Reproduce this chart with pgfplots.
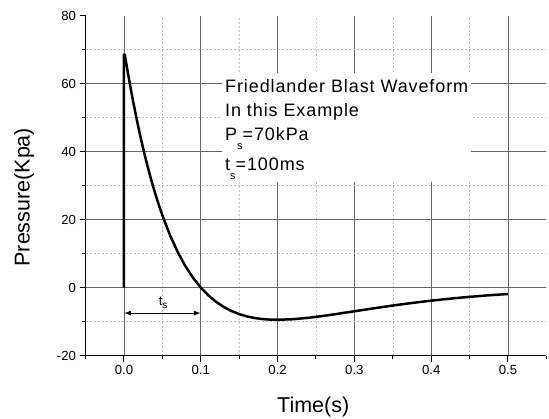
\documentclass[border=0pt]{standalone}
\usepackage{fontspec}
\setmainfont{Liberation Sans}
\newfontfamily\boxfont[LetterSpace=5]{Liberation Sans}
\usepackage{pgfplots}
\pgfplotsset{compat=1.18}
\usetikzlibrary{arrows.meta}
\begin{document}
\begin{tikzpicture}
\begin{axis}[
  scale only axis, width=461pt, height=340pt,
  xmin=-0.05, xmax=0.55, ymin=-20, ymax=80,
  axis x line*=bottom, axis y line*=left,
  axis line style={line width=1.3pt, -},
  xtick={0,0.1,0.2,0.3,0.4,0.5},
  minor xtick={0.05,0.15,0.25,0.35,0.45},
  extra x ticks={-0.05,0.55},
  extra x tick labels={,},
  extra x tick style={grid=none, major tick length=3.5pt},
  ytick={-20,0,20,40,60},
  minor ytick={-10,10,30,50,70},
  extra y ticks={80},
  extra y tick style={grid=none},
  grid=both,
  major grid style={black!60, line width=0.8pt},
  minor grid style={black!25, line width=0.5pt, dash pattern=on 2pt off 2pt},
  tick align=outside, major tick length=6pt, minor tick length=3.5pt,
  tick style={black, line width=1pt},
  x tick label style={/pgf/number format/.cd, fixed, fixed zerofill, precision=1},
  /pgf/number format/assume math mode=true,
  tick label style={font=\fontsize{13.2}{15}\selectfont},
  label style={font=\fontsize{21.5}{24}\selectfont},
  xlabel={Time(s)}, ylabel={Pressure(Kpa)},
  xlabel style={at={(axis description cs:0.494,-0.152)}, anchor=center},
  ylabel style={at={(axis description cs:-0.1336,0.466)}, anchor=center},
]
\fill[white] (axis cs:0.1276,31.1) rectangle (axis cs:0.452,63.1);
\addplot[black, line width=2.5pt, line join=round] coordinates {
(0,0) (0,68.6) (0.001,68.61) (0.005,63.26) (0.01,57.00) (0.015,51.21) (0.02,45.85)
(0.025,40.89) (0.03,36.30) (0.035,32.06) (0.04,28.15) (0.045,24.55) (0.05,21.23)
(0.06,15.37) (0.07,10.43) (0.08,6.29) (0.09,2.85) (0.10,0) (0.11,-2.33)
(0.12,-4.22) (0.13,-5.72) (0.14,-6.90) (0.15,-7.81) (0.16,-8.48) (0.17,-8.95)
(0.18,-9.26) (0.19,-9.42) (0.20,-9.47) (0.22,-9.31) (0.24,-8.89) (0.26,-8.32)
(0.28,-7.66) (0.30,-6.97) (0.325,-6.11) (0.35,-5.28) (0.375,-4.53) (0.40,-3.85)
(0.425,-3.25) (0.45,-2.72) (0.475,-2.27) (0.50,-1.89)
};
\draw[{Latex[length=7pt,width=5pt]}-{Latex[length=7pt,width=5pt]}, line width=1pt]
  (axis cs:0,-7.5) -- (axis cs:0.1,-7.5);
\node[anchor=base, inner sep=0pt, font=\fontsize{13}{13}\selectfont] at (axis cs:0.051,-5.2) {t\raisebox{-3.5pt}{\fontsize{10}{10}\selectfont s}};
\node[anchor=base west, inner sep=0pt, font=\boxfont\fontsize{18}{20}\selectfont] at (axis cs:0.1315,57.5) {Friedlander Blast Waveform};
\node[anchor=base west, inner sep=0pt, font=\boxfont\fontsize{18}{20}\selectfont] at (axis cs:0.1315,50.3) {In this Example};
\node[anchor=base west, inner sep=0pt, font=\boxfont\fontsize{18}{20}\selectfont] at (axis cs:0.1315,43.2) {P\raisebox{-9pt}{\fontsize{11}{11}\selectfont s}=70kPa};
\node[anchor=base west, inner sep=0pt, font=\boxfont\fontsize{18}{20}\selectfont] at (axis cs:0.1315,34.4) {t\raisebox{-9pt}{\fontsize{11}{11}\selectfont s}=100ms};
\coordinate (bl) at (axis cs:-0.16146,-38.62);
\coordinate (tr) at (axis cs:0.5534,84.62);
\end{axis}
\pgfresetboundingbox
\useasboundingbox (bl) rectangle (tr);
\end{tikzpicture}
\end{document}
